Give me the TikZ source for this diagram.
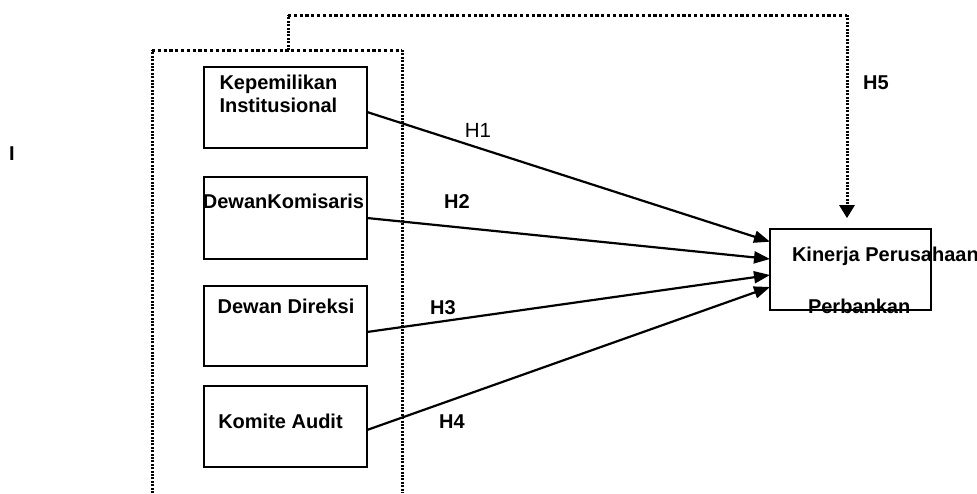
\documentclass[tikz,border=0pt]{standalone}
\usepackage{fontspec}
\setmainfont{Liberation Sans}
\usetikzlibrary{arrows.meta}
\begin{document}
\begin{tikzpicture}[x=1pt,y=-1pt,
  every node/.style={font=\fontsize{20}{24}\selectfont\bfseries, inner sep=0pt, outer sep=0pt},
  box/.style={draw, line width=2pt, minimum width=163pt},
  arr/.style={line width=2.2pt, -{Triangle[length=16pt,width=12pt]}},
  hdot/.style={line width=3pt, dash pattern=on 3.2pt off 2.6pt},
  vdot/.style={line width=3pt, dash pattern=on 2pt off 1.4pt},
  lbl/.style={anchor=base}
]
\useasboundingbox (0,0) rectangle (977,493);
% outer dotted frame
\draw[vdot] (152,493) -- (152,50);
\draw[hdot] (152,50) -- (402,50);
\draw[vdot] (402,50) -- (402,493);
% boxes
\node[box, minimum height=81pt] (b1) at (285.5,107.5) {};
\node[box, minimum height=82pt] (b2) at (285.5,218) {};
\node[box, minimum height=80pt] (b3) at (285.5,326) {};
\node[box, minimum height=81pt] (b4) at (285.5,426.5) {};
\node[box, minimum width=161pt, minimum height=81pt] (k) at (850.5,269.5) {};
% texts
\node[anchor=base west] (t1a) at (219.5,89) {Kepemilikan};
\node[anchor=base west] (t1b) at (219.5,112) {Institusional};
\node[lbl] (t2) at (283.5,208) {DewanKomisaris};
\node[lbl] (t3) at (286,313) {Dewan Direksi};
\node[lbl] (t4) at (280.5,428) {Komite Audit};
\node[anchor=base west] (tk1) at (792,261) {Kinerja Perusahaan};
\node[anchor=base west] (tk2) at (808,313) {Perbankan};
% hypothesis labels
\node[lbl, font=\fontsize{20.5}{24}\selectfont] (h1) at (478,137) {H1};
\node[lbl] (h2) at (457,208) {H2};
\node[lbl] (h3) at (443,314) {H3};
\node[lbl] (h4) at (452,428) {H4};
\node[lbl] (h5) at (876,89) {H5};
\node[lbl] (ii) at (12,160) {I};
% arrows
\draw[arr] ([yshift=-4.5pt]b1.east) -- ([yshift=27.8pt]k.west);
\draw[arr] (b2.east) -- ([yshift=10.5pt]k.west);
\draw[arr] ([yshift=-6pt]b3.east) -- ([yshift=-5.5pt]k.west);
\draw[arr] ([yshift=-3.5pt]b4.east) -- ([yshift=-17.5pt]k.west);
% H5 connector
\coordinate (p0) at (288,50);
\coordinate (p1) at (288,15);
\coordinate (p2) at (847,15);
\coordinate (p3) at (847,217);
\draw[vdot] (p0) -- (p1);
\draw[hdot] (p1) -- (p2);
\draw[vdot] (p2) -- ([yshift=10pt]p3);
\fill ([yshift=-1pt]p3) -- ++(-8,-13) -- ++(16,0) -- cycle;
\end{tikzpicture}
\end{document}
